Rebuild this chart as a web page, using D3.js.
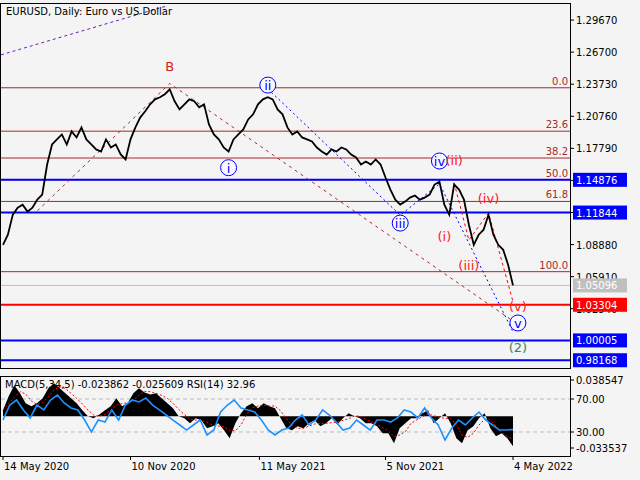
<!DOCTYPE html>
<html>
<head>
<meta charset="utf-8">
<script src="https://cdn.jsdelivr.net/npm/d3@7"></script>
<style>
  body { margin: 0; background: #f4f4f4; }
  text { font-family: "DejaVu Sans", sans-serif; font-size: 10px; }
</style>
</head>
<body>
<script>

// weekly closes, 14 May 2020 .. 4 May 2022
var closes = [1.0886,1.0979,1.1165,1.1230,1.1258,1.1193,1.1230,1.1304,1.1351,1.1629,
  1.1815,1.1862,1.1908,1.1815,1.1936,1.1880,1.1973,1.1862,1.1815,1.1769,
  1.1750,1.1862,1.1787,1.1815,1.1722,1.1676,1.1862,1.1973,1.2066,1.2122,
  1.2187,1.2233,1.2252,1.2280,1.2326,1.2215,1.2140,1.2187,1.2233,1.2215,
  1.2159,1.2187,1.2001,1.1908,1.1862,1.1787,1.1750,1.1862,1.1908,1.1954,
  1.2047,1.2094,1.2187,1.2233,1.2252,1.2233,1.2140,1.2094,1.1973,1.1908,
  1.1936,1.1880,1.1862,1.1843,1.1787,1.1750,1.1722,1.1769,1.1750,1.1787,
  1.1769,1.1722,1.1694,1.1629,1.1657,1.1629,1.1676,1.1629,1.1509,1.1397,
  1.1304,1.1258,1.1286,1.1323,1.1342,1.1304,1.1323,1.1351,1.1444,1.1471,
  1.1258,1.1165,1.1444,1.1397,1.1304,1.1072,1.0886,1.0979,1.1026,1.1165,
  1.0979,1.0886,1.0840,1.0701,1.0510];

var macdValues = [0.0064,0.0212,0.0329,0.0244,0.0138,0.0106,0.0138,0.0191,0.0297,0.0350,
  0.0297,0.0244,0.0191,0.0138,0.0064,0,-0.0021,0.0021,0.0064,0.0106,
  0.0191,0.0106,0.0138,0.0244,0.0297,0.0254,0.0233,0.0244,0.0191,0.0138,
  0.0085,0,-0.0021,-0.0074,-0.0021,-0.0042,-0.0127,-0.0106,-0.0074,-0.0148,
  -0.0233,-0.0074,0.0032,0.0106,0.0138,0.0085,0.0138,0.0106,0.0085,-0.0021,
  -0.0127,-0.0148,-0.0106,-0.0127,-0.0074,-0.0042,-0.0106,-0.0074,-0.0021,-0.0085,
  -0.0021,0.0032,0,-0.0021,-0.0074,-0.0074,-0.0106,-0.0180,-0.0180,-0.0286,
  -0.0127,-0.0074,-0.0021,-0.0021,0.0032,0.0064,-0.0074,-0.0021,0.0032,-0.0074,
  -0.0233,-0.0286,-0.0148,-0.0106,-0.0021,0.0032,-0.0127,-0.0212,-0.0180,-0.0233,-0.0318];

var rsiValues = [44.5,62.7,68.8,56.7,47,62.7,56.7,68.8,74.8,65.2,59.1,56.7,44.5,30,44.5,
  42.1,56.7,44.5,62.7,68.8,66.4,71.2,62.7,56.7,50.6,44.5,38.5,32.4,38.5,44.5,
  26.4,32.4,54.2,62.7,68.8,59.1,56.7,54.2,44.5,32.4,26.4,32.4,34.8,44.5,50.6,
  38.5,44.5,56.7,50.6,42.1,32.4,34.8,44.5,38.5,32.4,44.5,44.5,42.1,47,56.7,
  54.2,47,59.1,47,38.5,20.3,34.8,44.5,38.5,47,54.2,44.5,38.5,32.4,32.4,33];

var priceTicks = [1.29670,1.26700,1.23730,1.20760,1.17790,1.14820,1.11850,1.08880,1.05910,1.02940];
var dateTicks  = ["2020-05-14","2020-11-10","2021-05-11","2021-11-05","2022-05-04"];
var fibLevels  = [0, 23.6, 38.2, 50, 61.8, 100];
var fibHigh = 1.2340, fibLow = 1.0637;
var blueLevels = [1.14876, 1.11844, 1.00005, 0.98168];
var redLevel   = 1.03304;
var lastPrice  = 1.05096;

// wave marks: [week index, price, label]
var circledWaves = [[46,1.1600,"i"],[54,1.2365,"ii"],[81,1.1087,"iii"],[89,1.1662,"iv"],[105,1.0162,"v"]];
var redWaves     = [[92,1.1671,"(ii)"],[90,1.0967,"(i)"],[99,1.1320,"(iv)"],[95,1.0700,"(iii)"],[105,1.0319,"(v)"]];
var redPath      = [[92,1.1460],[95,1.0930],[99,1.1180],[104,1.0360]];
var bluePath     = [[54,1.2330],[81,1.1160],[89,1.1450],[104,1.0080]];
var bPath        = [[7,1.1200],[34,1.2380],[104,1.0180]];

var fmt = d3.format(".5f");
var W = 640, H = 480, R = 570;
var svg = d3.select("body").append("svg").attr("width", W).attr("height", H);
svg.append("rect").attr("width", W).attr("height", H).attr("fill", "#f4f4f4");

var start = new Date(2020, 4, 14), end = new Date(2022, 4, 4);
var xt = d3.scaleTime().domain([start, end]).range([3, 513]);
var xi = d3.scaleLinear().domain([0, closes.length - 1]).range([3, 513]);
var y  = d3.scaleLinear().domain([0.9745, 1.3125]).range([368, 3]);

// main panel
svg.append("rect").attr("x", 0.5).attr("y", 3.5).attr("width", R).attr("height", 365)
  .attr("fill", "none").attr("stroke", "#000");

// purple trend line
svg.append("line").attr("x1", 1).attr("y1", y(1.2645)).attr("x2", 165).attr("y2", y(1.3093))
  .attr("stroke", "#6a1fb0").attr("stroke-dasharray", "3,3");

fibLevels.forEach(function(l) {
  var p = fibHigh - (fibHigh - fibLow) * l / 100;
  svg.append("line").attr("x1", 1).attr("x2", R).attr("y1", y(p)).attr("y2", y(p))
    .attr("stroke", "#a52a2a").attr("stroke-width", 1);
  svg.append("text").attr("x", R - 2).attr("y", y(p) - 3).attr("text-anchor", "end")
    .attr("fill", "#a52a2a").text(l.toFixed(1));
});

svg.append("line").attr("x1", 1).attr("x2", R).attr("y1", y(lastPrice)).attr("y2", y(lastPrice))
  .attr("stroke", "#c0c0c0");
blueLevels.forEach(function(p) {
  svg.append("line").attr("x1", 1).attr("x2", R).attr("y1", y(p)).attr("y2", y(p))
    .attr("stroke", "#0000ff").attr("stroke-width", 2);
});
svg.append("line").attr("x1", 1).attr("x2", R).attr("y1", y(redLevel)).attr("y2", y(redLevel))
  .attr("stroke", "#ff0000").attr("stroke-width", 2);

var pl = d3.line().x(function(d) { return xi(d[0]); }).y(function(d) { return y(d[1]); });
svg.append("path").attr("d", pl(bPath)).attr("fill", "none").attr("stroke", "#a52a2a").attr("stroke-dasharray", "3,4");
svg.append("path").attr("d", pl(bluePath)).attr("fill", "none").attr("stroke", "#0000ff").attr("stroke-dasharray", "2,3");
svg.append("path").attr("d", pl(redPath)).attr("fill", "none").attr("stroke", "#ff0000").attr("stroke-dasharray", "3,3");

// price line
svg.append("path").datum(closes)
  .attr("d", d3.line().x(function(d, i) { return xi(i); }).y(function(d) { return y(d); }))
  .attr("fill", "none").attr("stroke", "#000").attr("stroke-width", 1.8);

// wave labels
svg.append("text").attr("x", xi(34)).attr("y", y(1.2541) + 5).attr("text-anchor", "middle")
  .attr("fill", "#d62020").style("font-size", "13px").text("B");
circledWaves.forEach(function(w) {
  svg.append("circle").attr("cx", xi(w[0])).attr("cy", y(w[1])).attr("r", 8)
    .attr("fill", "#f8f8ff").attr("stroke", "#0000ff");
  svg.append("text").attr("x", xi(w[0])).attr("y", y(w[1]) + 5).attr("text-anchor", "middle")
    .attr("fill", "#0000ff").style("font-size", "13px").text(w[2]);
});
redWaves.forEach(function(w) {
  svg.append("text").attr("x", xi(w[0])).attr("y", y(w[1]) + 5).attr("text-anchor", "middle")
    .attr("fill", "#ff2020").style("font-size", "13px").text(w[2]);
});
svg.append("text").attr("x", xi(105)).attr("y", y(0.9940) + 5).attr("text-anchor", "middle")
  .attr("fill", "#2e8b57").style("font-size", "13px").text("(2)");

svg.append("text").attr("x", 6).attr("y", 15).attr("fill", "#000").text("EURUSD, Daily:  Euro vs US Dollar");

// right price axis
priceTicks.forEach(function(p) {
  svg.append("line").attr("x1", R).attr("x2", R + 4).attr("y1", y(p)).attr("y2", y(p)).attr("stroke", "#000");
  svg.append("text").attr("x", R + 6).attr("y", y(p) + 4).text(fmt(p));
});
function tag(p, bg, fg) {
  svg.append("rect").attr("x", R + 3).attr("y", y(p) - 7).attr("width", 54).attr("height", 14).attr("fill", bg);
  svg.append("text").attr("x", R + 6).attr("y", y(p) + 4).attr("fill", fg).text(fmt(p));
}
tag(lastPrice, "#c0c0c0", "#fff");
blueLevels.forEach(function(p) { tag(p, "#0000ff", "#fff"); });
tag(redLevel, "#ff0000", "#fff");

// indicator panel
var top2 = 376, bot2 = 456;
svg.append("rect").attr("x", 0.5).attr("y", top2 + 0.5).attr("width", R).attr("height", bot2 - top2)
  .attr("fill", "none").attr("stroke", "#000");
var ym = d3.scaleLinear().domain([-0.033537, 0.038547]).range([448, 380]);
var yr = d3.scaleLinear().domain([30, 70]).range([432, 399]);
var xm = d3.scaleLinear().domain([0, macdValues.length - 1]).range([3, 513]);
var xr = d3.scaleLinear().domain([0, rsiValues.length - 1]).range([3, 513]);

[70, 30].forEach(function(v) {
  svg.append("line").attr("x1", 1).attr("x2", R).attr("y1", yr(v)).attr("y2", yr(v))
    .attr("stroke", "#bbb").attr("stroke-dasharray", "4,3");
});
svg.append("path").datum(macdValues)
  .attr("d", d3.area().x(function(d, i) { return xm(i); }).y0(ym(0)).y1(function(d) { return ym(d); }))
  .attr("fill", "#000");
var signal = macdValues.map(function(d, i) { return d3.mean(macdValues.slice(Math.max(0, i - 2), i + 1)); });
svg.append("path").datum(signal)
  .attr("d", d3.line().x(function(d, i) { return xm(i); }).y(function(d) { return ym(d); }))
  .attr("fill", "none").attr("stroke", "#ff0000").attr("stroke-dasharray", "2,2");
svg.append("path").datum(rsiValues)
  .attr("d", d3.line().x(function(d, i) { return xr(i); }).y(function(d) { return yr(d); }))
  .attr("fill", "none").attr("stroke", "#1e90ff").attr("stroke-width", 1.6);

svg.append("text").attr("x", 5).attr("y", top2 + 12).text("MACD(5,34,5) -0.023862 -0.025609 RSI(14) 32.96");
[[ym(0.038547), "0.038547"], [yr(70), "70.00"], [yr(30), "30.00"], [ym(-0.033537), "-0.033537"]].forEach(function(t) {
  svg.append("line").attr("x1", R).attr("x2", R + 4).attr("y1", t[0]).attr("y2", t[0]).attr("stroke", "#000");
  svg.append("text").attr("x", R + 6).attr("y", t[0] + 4).text(t[1]);
});

// time axis
var tf = d3.timeFormat("%-d %b %Y");
dateTicks.forEach(function(s) {
  var d = d3.timeParse("%Y-%m-%d")(s);
  svg.append("line").attr("x1", xt(d)).attr("x2", xt(d)).attr("y1", bot2).attr("y2", bot2 + 4).attr("stroke", "#000");
  svg.append("text").attr("x", xt(d) + 1).attr("y", bot2 + 14).text(tf(d));
});
</script>
</body>
</html>
